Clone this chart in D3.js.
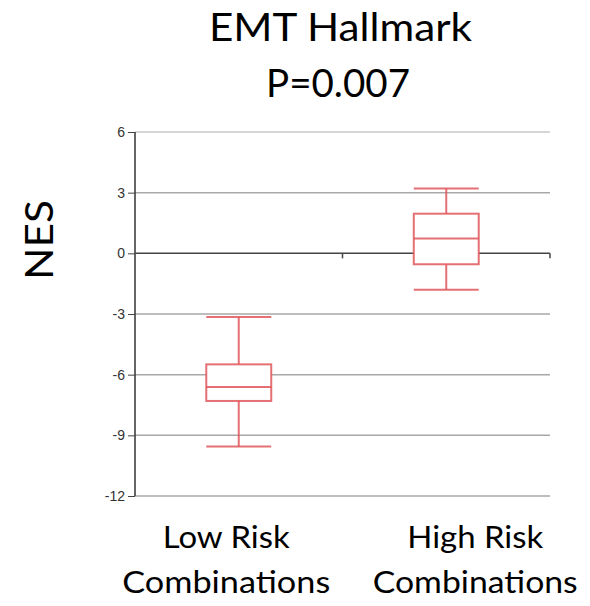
<!DOCTYPE html>
<html><head><meta charset="utf-8">
<script src="https://cdn.jsdelivr.net/npm/d3@7"></script>
<style>body{margin:0;background:#fff}</style>
</head><body>
<svg id="c" width="590" height="606"></svg>
<script>
const categories = ["Low Risk Combinations", "High Risk Combinations"];
const labelLines = [["Low Risk", "Combinations"], ["High Risk", "Combinations"]];
const whiskerLow = [-9.55, -1.8];
const q1 = [-7.3, -0.54];
const median = [-6.61, 0.73];
const q3 = [-5.49, 1.96];
const whiskerHigh = [-3.15, 3.21];
const yTicks = [-12, -9, -6, -3, 0, 3, 6];
const titleLines = ["EMT Hallmark", "P=0.007"];
const yTitle = "NES";

(function () {
const svg = d3.select("#c");
const pl = 135, pr = 550, pt = 132, pb = 496;
const x = d3.scaleBand().domain(categories).range([pl, pr]);
const y = d3.scaleLinear().domain([-12, 6]).range([pb, pt]);
const font = "Lato, 'Open Sans', sans-serif";

// gridlines
svg.append("g").selectAll("line").data(yTicks.filter(d => d !== 0)).join("line")
  .attr("x1", pl).attr("x2", pr)
  .attr("y1", d => y(d)).attr("y2", d => y(d))
  .attr("stroke", d => d === 6 ? "#c8c8c8" : "#a8a8a8").attr("stroke-width", 1.5);

// y axis
const ya = svg.append("g").attr("transform", `translate(${pl},0)`)
  .call(d3.axisLeft(y).tickValues(yTicks).tickSize(7).tickPadding(3).tickFormat(d => String(d)));
ya.select(".domain").attr("stroke", "#333").attr("stroke-width", 1.5).attr("d", `M0,${pt}V${pb}`);
ya.selectAll(".tick line").attr("stroke", "#444");
ya.selectAll(".tick text").attr("font-family", "'Liberation Sans', Arial, sans-serif")
  .attr("font-size", 14).attr("fill", "#333");

// zero line with category ticks
const xa = svg.append("g").attr("transform", `translate(0,${y(0)})`)
  .call(d3.axisBottom(x).tickSize(0).tickFormat(""));
xa.select(".domain").attr("stroke", "#444").attr("stroke-width", 1.5).attr("d", `M${pl},0H${pr}`);
xa.selectAll(".tick").remove();
svg.append("g").selectAll("line").data(categories).join("line")
  .attr("x1", d => x(d) + x.bandwidth()).attr("x2", d => x(d) + x.bandwidth())
  .attr("y1", y(0)).attr("y2", y(0) + 5).attr("stroke", "#444").attr("stroke-width", 1.5);

// boxes
const bw = x.bandwidth() * 0.313;
const col = "#e0575c";
const g = svg.append("g").attr("stroke", col).attr("stroke-width", 2).attr("fill", "none").attr("stroke-opacity", 0.85);
categories.forEach((c, i) => {
  const cx = x(c) + x.bandwidth() / 2;
  g.append("line").attr("x1", cx).attr("x2", cx).attr("y1", y(whiskerHigh[i])).attr("y2", y(q3[i]));
  g.append("line").attr("x1", cx).attr("x2", cx).attr("y1", y(q1[i])).attr("y2", y(whiskerLow[i]));
  g.append("line").attr("x1", cx - bw / 2).attr("x2", cx + bw / 2).attr("y1", y(whiskerHigh[i])).attr("y2", y(whiskerHigh[i]));
  g.append("line").attr("x1", cx - bw / 2).attr("x2", cx + bw / 2).attr("y1", y(whiskerLow[i])).attr("y2", y(whiskerLow[i]));
  g.append("rect").attr("x", cx - bw / 2).attr("width", bw).attr("y", y(q3[i])).attr("height", y(q1[i]) - y(q3[i])).attr("fill", "#fff");
  g.append("line").attr("x1", cx - bw / 2).attr("x2", cx + bw / 2).attr("y1", y(median[i])).attr("y2", y(median[i]));
});

// category labels
const labelOffsets = [-12.5, 29];
const labelWidths = [[127, 208], [136, 205]];
categories.forEach((c, i) => {
  const cx = x(c) + x.bandwidth() / 2 + labelOffsets[i];
  labelLines[i].forEach((t, j) => {
    svg.append("text").attr("x", cx).attr("y", 548 + j * 45).attr("text-anchor", "middle")
      .attr("font-family", font).attr("font-size", 30).attr("fill", "#000")
      .attr("textLength", labelWidths[i][j]).attr("lengthAdjust", "spacingAndGlyphs").text(t);
  });
});

// title
const titleX = [340.5, 338], titleW = [263, 144];
titleLines.forEach((t, j) => {
  svg.append("text").attr("x", titleX[j]).attr("y", 41 + j * 56).attr("text-anchor", "middle")
    .attr("font-family", font).attr("font-size", 38).attr("fill", "#000")
    .attr("textLength", titleW[j]).attr("lengthAdjust", "spacingAndGlyphs").text(t);
});

// y title
svg.append("text").attr("transform", "translate(53,240) rotate(-90)").attr("text-anchor", "middle")
  .attr("font-family", font).attr("font-size", 38).attr("fill", "#000")
  .attr("textLength", 80).attr("lengthAdjust", "spacingAndGlyphs").text(yTitle);
})();
</script>
</body></html>
